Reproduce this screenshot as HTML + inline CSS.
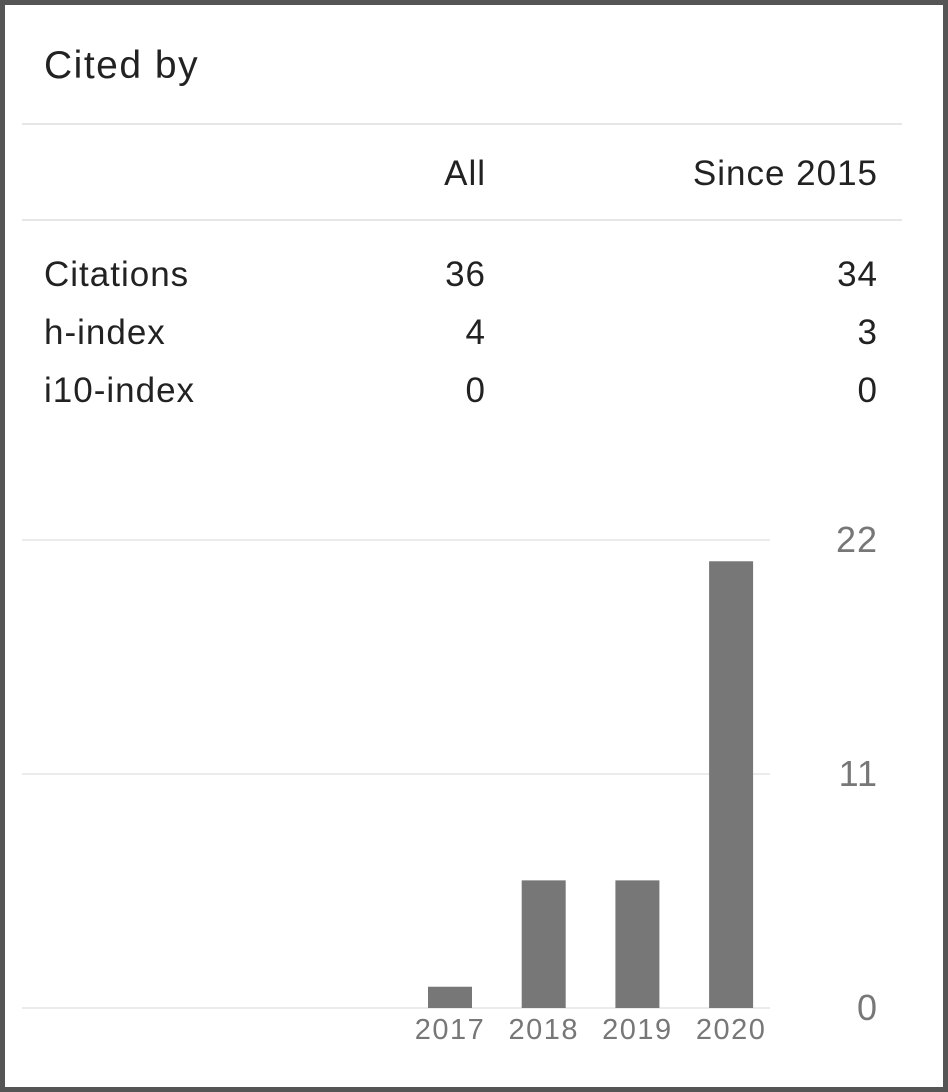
<!DOCTYPE html>
<html><head><meta charset="utf-8">
<style>
html,body{margin:0;padding:0;background:#fff;}
#frame{position:absolute;left:0;top:0;width:938px;height:1082px;border:5px solid #555;background:#fff;font-family:"Liberation Sans",Arial,sans-serif;color:#222;}
.t{position:absolute;white-space:nowrap;line-height:1;}
.hr{position:absolute;left:17px;width:880px;height:2px;background:#e6e6e6;}
.r{text-align:right;}
.row{font-size:35px;letter-spacing:1px;}
.row.r{margin-right:-1px;}
</style></head>
<body>
<div id="frame">
<div class="t" style="left:39px;top:41px;font-size:39px;letter-spacing:1.5px">Cited by</div>
<div class="hr" style="top:118px"></div>
<div class="t r row" style="right:458px;top:151px">All</div>
<div class="t r row" style="right:66px;top:151px">Since 2015</div>
<div class="hr" style="top:214px"></div>
<div class="t row" style="left:39px;top:252px">Citations</div>
<div class="t r row" style="right:458px;top:252px">36</div>
<div class="t r row" style="right:66px;top:252px">34</div>
<div class="t row" style="left:39px;top:310px">h-index</div>
<div class="t r row" style="right:458px;top:310px">4</div>
<div class="t r row" style="right:66px;top:310px">3</div>
<div class="t row" style="left:39px;top:368px">i10-index</div>
<div class="t r row" style="right:458px;top:368px">0</div>
<div class="t r row" style="right:66px;top:368px">0</div>
<svg id="chart" style="position:absolute;left:-5px;top:-5px" width="948" height="1092"></svg>
</div>
<script>
const years=["2017","2018","2019","2020"];
const counts=[1,6,6,21];
const ticks=[0,11,22];
const NS="http://www.w3.org/2000/svg";
const svg=document.getElementById('chart');
const y0=1008,yTop=540,maxV=22;
function yS(v){return y0-(y0-yTop)*v/maxV;}
function xS(i){return 428+i*93.7;}
function mk(tag,attrs){const e=document.createElementNS(NS,tag);for(const k in attrs)e.setAttribute(k,attrs[k]);svg.appendChild(e);return e;}
ticks.forEach(t=>{
  const l=mk('rect',{x:22,y:yS(t)-1,width:748,height:2,fill:'#ebebeb'});
  
  
  const tx=mk('text',{x:878,y:yS(t)+12,'text-anchor':'end','font-size':36,'letter-spacing':1,fill:'#777','font-family':'Liberation Sans, Arial, sans-serif'});
  tx.textContent=t;
  
  
});
years.forEach((yr,i)=>{
  const b=mk('rect',{x:xS(i),y:yS(counts[i]),width:44,height:y0-yS(counts[i]),fill:'#777'});
  
  
  const tx=mk('text',{x:xS(i)+22,y:1039,'text-anchor':'middle','font-size':29,'letter-spacing':1.5,fill:'#777','font-family':'Liberation Sans, Arial, sans-serif'});
  tx.textContent=yr;
  
  
});
</script>
</body></html>
